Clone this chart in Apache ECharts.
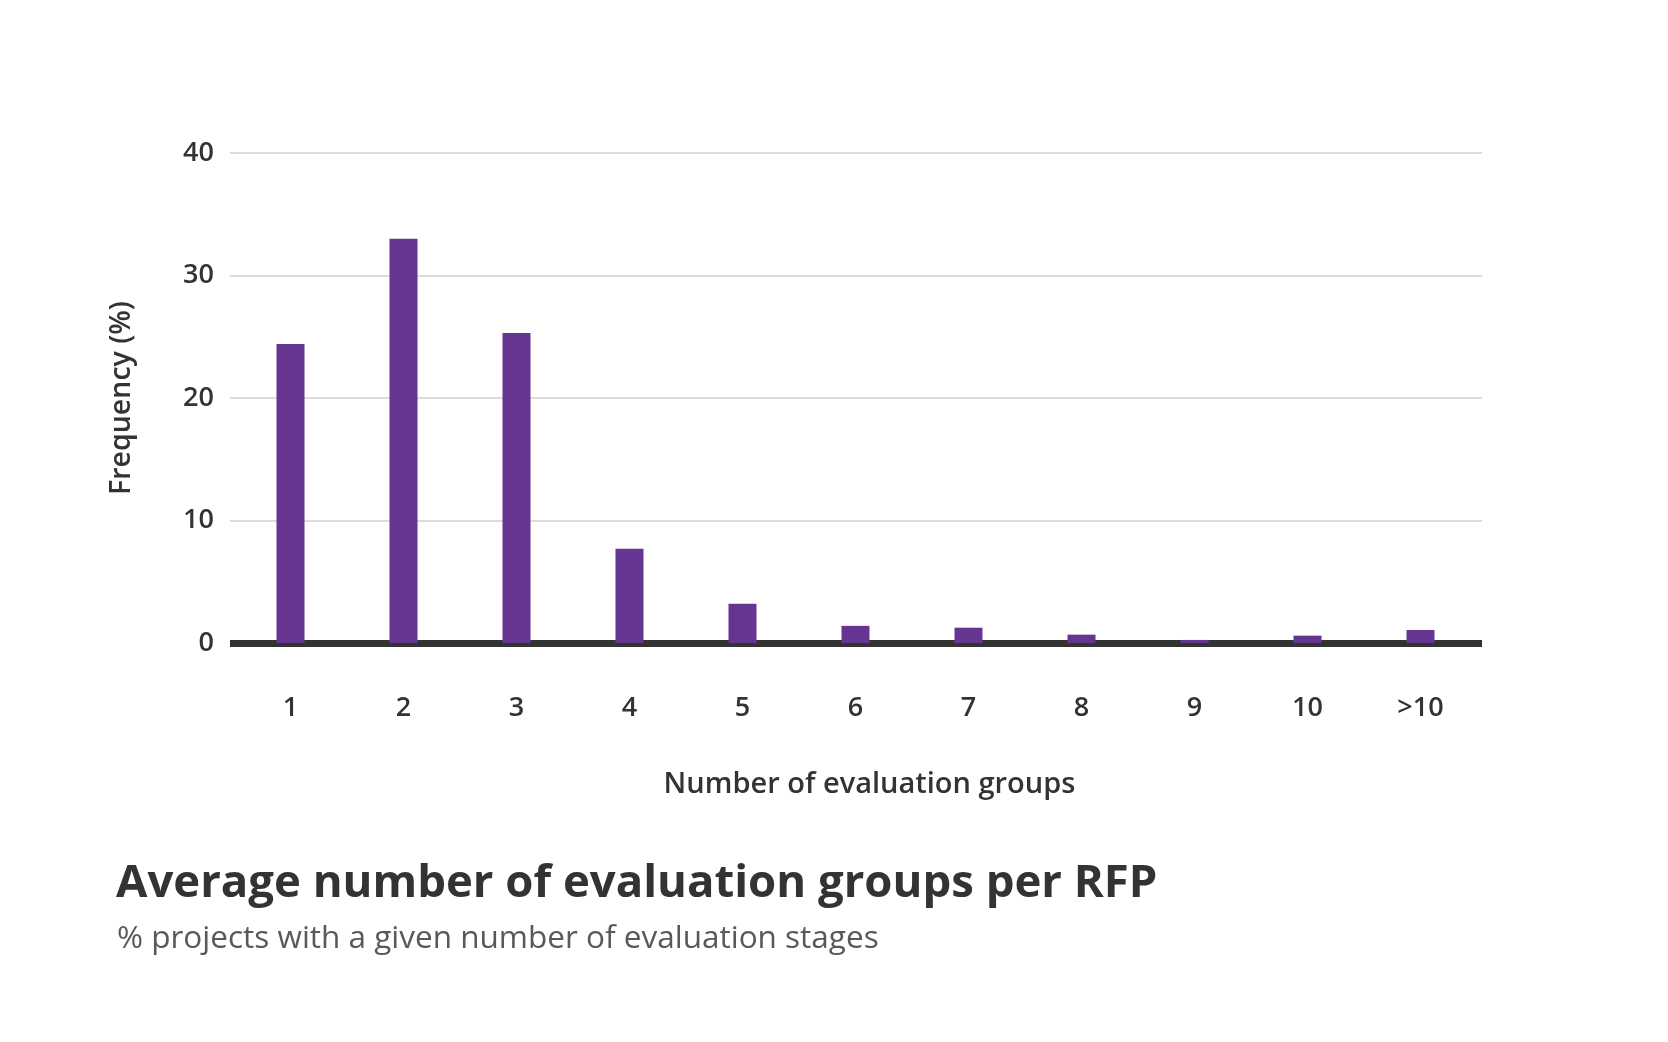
<!DOCTYPE html>
<html>
<head>
<meta charset="utf-8">
<script src="https://cdn.jsdelivr.net/npm/echarts@6/dist/echarts.min.js"></script>
<style>
html,body{margin:0;padding:0;background:#fff;}
#chart{width:1668px;height:1042px;}
</style>
</head>
<body>
<div id="chart"></div>
<script>
const categories = ['1','2','3','4','5','6','7','8','9','10','>10'];
const frequency = [24.4, 33.0, 25.3, 7.7, 3.2, 1.4, 1.25, 0.68, 0.25, 0.6, 1.06];
const yTicks = { min: 0, max: 40, interval: 10 };
const titleText = 'Average number of evaluation groups per RFP';
const subtitleText = '% projects with a given number of evaluation stages';
const xName = 'Number of evaluation groups';
const yName = 'Frequency (%)';

const FONT = '"Open Sans", "Noto Sans", sans-serif';
const chart = echarts.init(document.getElementById('chart'), null, {renderer: 'canvas'});
chart.setOption({
  backgroundColor: '#ffffff',
  animation: false,
  title: [
    {
      text: titleText,
      left: 116, top: 861, padding: 0,
      textStyle: {fontFamily: FONT, fontWeight: 'bold', fontSize: 45.5, color: '#333333'}
    },
    {
      text: subtitleText,
      left: 117, top: 923, padding: 0,
      textStyle: {fontFamily: FONT, fontWeight: 'normal', fontSize: 31.5, color: '#595959'}
    }
  ],
  grid: [
    {left: 230, right: 186, top: 153, bottom: 399, containLabel: false},
    {left: 234, right: 191, top: 153, bottom: 399, containLabel: false}
  ],
  xAxis: [
    {
      gridIndex: 0,
      type: 'category',
      data: categories,
      offset: 3,
      axisLine: {show: true, lineStyle: {color: '#333333', width: 7, cap: 'butt'}},
      axisTick: {show: false},
      axisLabel: {show: false}
    },
    {
      gridIndex: 1,
      type: 'category',
      data: categories,
      offset: 3,
      axisLine: {show: false},
      axisTick: {show: false},
      axisLabel: {fontFamily: FONT, fontSize: 27, fontWeight: 600, color: '#333333', margin: 49},
      name: xName,
      nameLocation: 'middle',
      nameGap: 124,
      nameTextStyle: {fontFamily: FONT, fontSize: 29, fontWeight: 600, color: '#333333', padding: [0, 0, 0, 28]}
    }
  ],
  yAxis: [
    {
      gridIndex: 0,
      type: 'value',
      min: yTicks.min, max: yTicks.max, interval: yTicks.interval,
      axisLine: {show: false},
      axisTick: {show: false},
      splitLine: {lineStyle: {color: '#d0d0d0', width: 1.5}},
      axisLabel: {fontFamily: FONT, fontSize: 27, fontWeight: 600, color: '#333333', margin: 16},
      name: yName,
      nameLocation: 'middle',
      nameGap: 94,
      nameTextStyle: {fontFamily: FONT, fontSize: 28.5, fontWeight: 600, color: '#333333'}
    },
    {
      gridIndex: 1,
      type: 'value',
      min: yTicks.min, max: yTicks.max, interval: yTicks.interval,
      show: false
    }
  ],
  series: [{
    type: 'bar',
    xAxisIndex: 1,
    yAxisIndex: 1,
    data: frequency,
    barWidth: 28,
    itemStyle: {color: '#663591'}
  }]
});
</script>
</body>
</html>
